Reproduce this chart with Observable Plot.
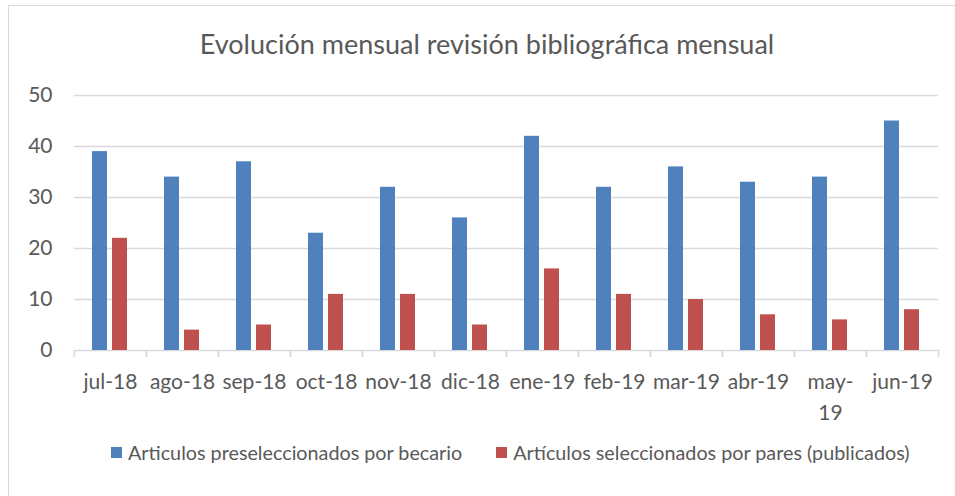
<!DOCTYPE html>
<html>
<head>
<meta charset="utf-8">
<script src="https://cdn.jsdelivr.net/npm/d3@7"></script>
<script src="https://cdn.jsdelivr.net/npm/@observablehq/plot@0.6"></script>
<style>
  html, body { margin: 0; padding: 0; background: #fff; overflow: hidden; }
  body { width: 955px; height: 496px; position: relative; font-family: Lato, sans-serif; color: #595959; }
  #frame { position: absolute; left: 8px; top: 5px; width: 1000px; height: 1000px; border: 1px solid #d9d9d9; box-sizing: border-box; }
  #title { position: absolute; left: 0; width: 974px; top: 27px; text-align: center; font-size: 27px; line-height: normal; white-space: nowrap; }
  #chart { position: absolute; left: 0; top: 80px; }
  #legend { position: absolute; left: 111px; top: 441px; font-size: 19.75px; line-height: normal; white-space: nowrap; display: flex; align-items: center; }
  .item { display: flex; align-items: center; }
  .sw { width: 11px; height: 11px; margin-right: 6px; display: inline-block; }
</style>
</head>
<body>
<div id="frame"></div>
<div id="title"></div>
<div id="chart"></div>
<div id="legend"></div>
<script>
const title = "Evolución mensual revisión bibliográfica mensual";
const months = ["jul-18","ago-18","sep-18","oct-18","nov-18","dic-18","ene-19","feb-19","mar-19","abr-19","may-19","jun-19"];
const seriesNames = ["Articulos preseleccionados por becario", "Artículos seleccionados por pares (publicados)"];
const preseleccionados = [39, 34, 37, 23, 32, 26, 42, 32, 36, 33, 34, 45];
const publicados = [22, 4, 5, 11, 11, 5, 16, 11, 10, 7, 6, 8];
const colors = ["#4F81BD", "#C0504D"];
const yTicks = [0, 10, 20, 30, 40, 50];

document.getElementById("title").textContent = title;

const data = months.flatMap((m, i) => [
  {month: m, series: seriesNames[0], value: preseleccionados[i]},
  {month: m, series: seriesNames[1], value: publicados[i]}
]);

const width = 955, marginLeft = 72, marginRight = 16;
const bw = (width - marginLeft - marginRight) / months.length;
const grid = "#d9d9d9";

const chart = Plot.plot({
  width, height: 345,
  marginTop: 15, marginBottom: 75, marginLeft, marginRight,
  style: {fontFamily: "Lato, sans-serif", fontSize: "21px", color: "#595959", background: "transparent", overflow: "visible"},
  fx: {domain: months, padding: 0, label: null},
  x: {domain: seriesNames, paddingInner: 0.238, paddingOuter: 0.839, axis: null},
  y: {domain: [0, 50], ticks: yTicks, label: null},
  color: {domain: seriesNames, range: colors},
  marks: [
    Plot.gridY(yTicks, {stroke: grid, strokeOpacity: 1, strokeWidth: 1.5}),
    Plot.barY(data, {fx: "month", x: "series", y: "value", fill: "series"}),
    Plot.axisY(yTicks, {tickSize: 0, tickPadding: 22, label: null, fontSize: 21}),
    Plot.axisFx({anchor: "bottom", tickSize: 7, tickFormat: () => "", dx: -bw / 2, stroke: grid, strokeOpacity: 1, strokeWidth: 1.5, label: null}),
    Plot.axisFx({anchor: "bottom", tickSize: 7, tickFormat: () => "", dx: bw / 2, stroke: grid, strokeOpacity: 1, strokeWidth: 1.5, label: null}),
    Plot.axisFx({anchor: "bottom", tickSize: 0, tickPadding: 17, label: null, fontSize: 21, lineHeight: 1.45,
      tickFormat: d => d === "may-19" ? "may-\n19" : d})
  ]
});
document.getElementById("chart").appendChild(chart);

const legend = document.getElementById("legend");
seriesNames.forEach((s, i) => {
  const it = document.createElement("span");
  it.className = "item";
  if (i > 0) it.style.marginLeft = "34px";
  const sw = document.createElement("span");
  sw.className = "sw";
  sw.style.background = colors[i];
  it.appendChild(sw);
  it.appendChild(document.createTextNode(s));
  legend.appendChild(it);
});
</script>
</body>
</html>
